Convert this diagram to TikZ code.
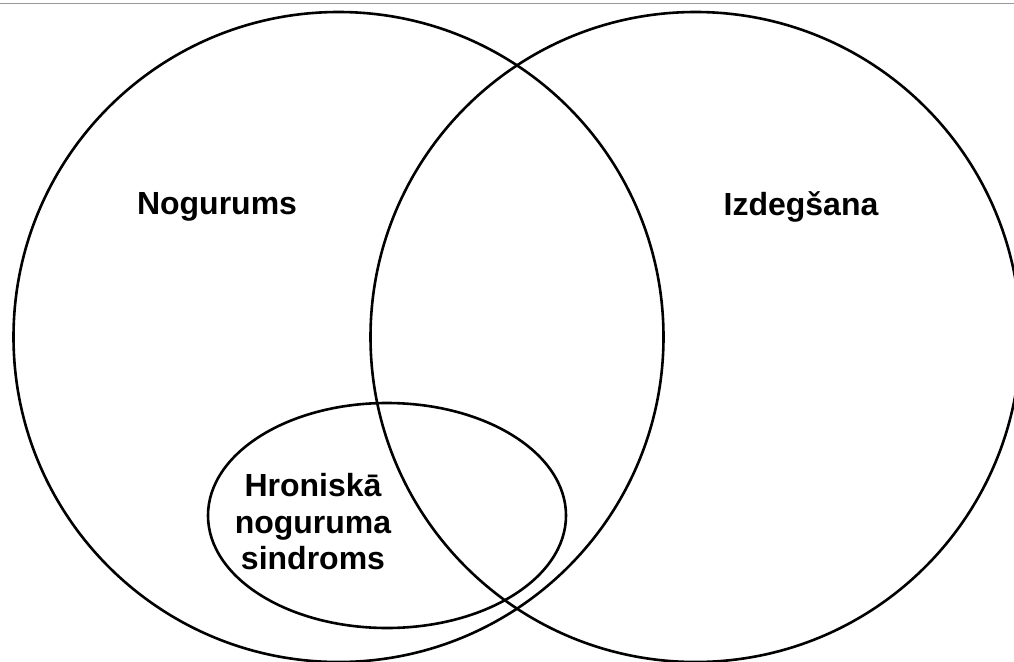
\documentclass[tikz,border=0pt]{standalone}
\usepackage{fontspec}
\setmainfont{Liberation Sans}
\usetikzlibrary{shapes.geometric}
\begin{document}
\begin{tikzpicture}[x=1pt,y=-1pt,
  setcircle/.style={draw, circle, line width=2.6pt, minimum size=650pt, inner sep=0pt},
  label/.style={font=\fontsize{32}{36.5}\selectfont\bfseries, align=center, inner sep=0pt}]
\useasboundingbox (0,0) rectangle (1014,661);
\clip (0,0) rectangle (1014,661);
\draw[gray!80, line width=1.5pt] (0,3.5) -- (1014,3.5);
\node[setcircle] (nog) at (338.5,337) {};
\node[setcircle] (izd) at (695.5,337) {};
\node[draw, ellipse, line width=2.6pt, minimum width=358pt, minimum height=225pt, inner sep=0pt] (hns) at (387,515.5) {};
\node[label] (tnog) at (217,207) {Nogurums};
\node[label] (tizd) at (801,207) {Izdegšana};
\node[label] (thns) at (313,522) {Hroniskā\\noguruma\\sindroms};
\end{tikzpicture}
\end{document}
